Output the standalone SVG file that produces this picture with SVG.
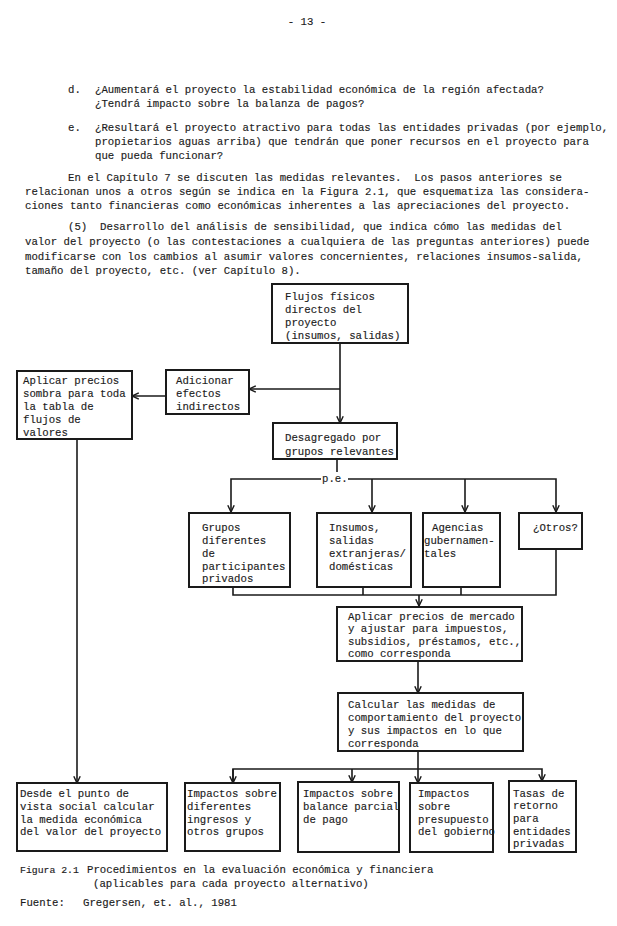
<svg xmlns="http://www.w3.org/2000/svg" width="617" height="926" viewBox="0 0 617 926">
<defs>
<style>
.t{font-family:"Liberation Mono","DejaVu Sans Mono",monospace;font-size:10.7px;fill:#1c1c1c;stroke:#1c1c1c;stroke-width:0.15;white-space:pre}
.box{fill:#fff;stroke:#1a1a1a;stroke-width:2}
.c{fill:none;stroke:#1a1a1a;stroke-width:1.6}
</style>
<marker id="ah" viewBox="0 0 10 10" refX="9.5" refY="5" markerWidth="8" markerHeight="8" orient="auto" markerUnits="userSpaceOnUse">
<path d="M1,1 L9.5,5 L1,9" fill="none" stroke="#1a1a1a" stroke-width="1.8"/>
</marker>
</defs>
<rect width="617" height="926" fill="#fff"/>

<g id="page-text">
<text class="t" x="307" y="25" text-anchor="middle">- 13 -</text>
<text class="t" x="68" y="93">d.</text>
<text class="t" x="95" y="93">¿Aumentará el proyecto la estabilidad económica de la región afectada?</text>
<text class="t" x="95" y="107">¿Tendrá impacto sobre la balanza de pagos?</text>
<text class="t" x="68" y="131">e.</text>
<text class="t" x="95" y="131">¿Resultará el proyecto atractivo para todas las entidades privadas (por ejemplo,</text>
<text class="t" x="95" y="145">propietarios aguas arriba) que tendrán que poner recursos en el proyecto para</text>
<text class="t" x="95" y="159">que pueda funcionar?</text>
<text class="t" x="68" y="181" xml:space="preserve">En el Capítulo 7 se discuten las medidas relevantes.  Los pasos anteriores se</text>
<text class="t" x="25" y="195">relacionan unos a otros según se indica en la Figura 2.1, que esquematiza las considera-</text>
<text class="t" x="25" y="209">ciones tanto financieras como económicas inherentes a las apreciaciones del proyecto.</text>
<text class="t" x="68" y="230" xml:space="preserve">(5)  Desarrollo del análisis de sensibilidad, que indica cómo las medidas del</text>
<text class="t" x="25" y="245">valor del proyecto (o las contestaciones a cualquiera de las preguntas anteriores) puede</text>
<text class="t" x="25" y="260">modificarse con los cambios al asumir valores concernientes, relaciones insumos-salida,</text>
<text class="t" x="25" y="274">tamaño del proyecto, etc. (ver Capítulo 8).</text>
</g>

<g id="connectors">
<path class="c" d="M340,343 V423" marker-end="url(#ah)"/>
<path class="c" d="M340,389 H249" marker-end="url(#ah)"/>
<path class="c" d="M166,396 H132" marker-end="url(#ah)"/>
<path class="c" d="M77,439 V783" marker-end="url(#ah)"/>
<path class="c" d="M337,459 V472"/>
<path class="c" d="M321,479 H231 V512" marker-end="url(#ah)"/>
<path class="c" d="M348,479 H556 V512" marker-end="url(#ah)"/>
<path class="c" d="M372,479 V512" marker-end="url(#ah)"/>
<path class="c" d="M465,479 V512" marker-end="url(#ah)"/>
<path class="c" d="M233,587 V595 H556 V549"/>
<path class="c" d="M363,587 V595"/>
<path class="c" d="M461,587 V595"/>
<path class="c" d="M419,595 V606" marker-end="url(#ah)"/>
<path class="c" d="M418,661 V693" marker-end="url(#ah)"/>
<path class="c" d="M418,751 V783" marker-end="url(#ah)"/>
<path class="c" d="M233,783 V769 H542 V781" marker-end="url(#ah)"/>
<path class="c" d="M233,769 V783" marker-end="url(#ah)"/>
<path class="c" d="M352,769 V782" marker-end="url(#ah)"/>
<text class="t" x="322" y="482">p.e.</text>
</g>

<g id="flujos">
<rect class="box" x="272" y="284" width="136" height="59"/>
<text class="t" x="285" y="300">Flujos físicos</text>
<text class="t" x="285" y="313">directos del</text>
<text class="t" x="285" y="326">proyecto</text>
<text class="t" x="285" y="339">(insumos, salidas)</text>
</g>

<g id="adicionar">
<rect class="box" x="166" y="370" width="83" height="44"/>
<text class="t" x="176" y="384">Adicionar</text>
<text class="t" x="176" y="397">efectos</text>
<text class="t" x="176" y="410">indirectos</text>
</g>

<g id="precios-sombra">
<rect class="box" x="17" y="371" width="115" height="68"/>
<text class="t" x="23" y="384">Aplicar precios</text>
<text class="t" x="23" y="397">sombra para toda</text>
<text class="t" x="23" y="410">la tabla de</text>
<text class="t" x="23" y="423">flujos de</text>
<text class="t" x="23" y="436">valores</text>
</g>

<g id="desagregado">
<rect class="box" x="273" y="423" width="124" height="36"/>
<text class="t" x="285" y="441">Desagregado por</text>
<text class="t" x="285" y="455">grupos relevantes</text>
</g>

<g id="grupos">
<rect class="box" x="189" y="513" width="101" height="74"/>
<text class="t" x="202" y="531">Grupos</text>
<text class="t" x="202" y="544">diferentes</text>
<text class="t" x="202" y="557">de</text>
<text class="t" x="202" y="570">participantes</text>
<text class="t" x="202" y="582">privados</text>
</g>

<g id="insumos">
<rect class="box" x="317" y="513" width="94" height="74"/>
<text class="t" x="329" y="531">Insumos,</text>
<text class="t" x="329" y="544">salidas</text>
<text class="t" x="329" y="557">extranjeras/</text>
<text class="t" x="329" y="570">domésticas</text>
</g>

<g id="agencias">
<rect class="box" x="423" y="513" width="77" height="74"/>
<text class="t" x="432" y="531">Agencias</text>
<text class="t" x="424" y="544">gubernamen-</text>
<text class="t" x="424" y="557">tales</text>
</g>

<g id="otros">
<rect class="box" x="519" y="513" width="63" height="36"/>
<text class="t" x="533" y="531">¿Otros?</text>
</g>

<g id="precios-mercado">
<rect class="box" x="337" y="607" width="185" height="54"/>
<text class="t" x="348" y="620">Aplicar precios de mercado</text>
<text class="t" x="348" y="632">y ajustar para impuestos,</text>
<text class="t" x="348" y="645">subsidios, préstamos, etc.,</text>
<text class="t" x="348" y="657">como corresponda</text>
</g>

<g id="calcular">
<rect class="box" x="338" y="693" width="185" height="58"/>
<text class="t" x="348" y="708">Calcular las medidas de</text>
<text class="t" x="348" y="721">comportamiento del proyecto</text>
<text class="t" x="348" y="734">y sus impactos en lo que</text>
<text class="t" x="348" y="747">corresponda</text>
</g>

<g id="desde">
<rect class="box" x="17" y="783" width="150" height="68"/>
<text class="t" x="20" y="797">Desde el punto de</text>
<text class="t" x="20" y="810">vista social calcular</text>
<text class="t" x="20" y="823">la medida económica</text>
<text class="t" x="20" y="835">del valor del proyecto</text>
</g>

<g id="impactos-ingresos">
<rect class="box" x="185" y="783" width="95" height="68"/>
<text class="t" x="187" y="797">Impactos sobre</text>
<text class="t" x="187" y="810">diferentes</text>
<text class="t" x="187" y="823">ingresos y</text>
<text class="t" x="187" y="835">otros grupos</text>
</g>

<g id="impactos-balance">
<rect class="box" x="298" y="782" width="101" height="70"/>
<text class="t" x="303" y="797">Impactos sobre</text>
<text class="t" x="303" y="810">balance parcial</text>
<text class="t" x="303" y="823">de pago</text>
</g>

<g id="impactos-presupuesto">
<rect class="box" x="410" y="783" width="83" height="69"/>
<text class="t" x="418" y="797">Impactos</text>
<text class="t" x="418" y="810">sobre</text>
<text class="t" x="418" y="823">presupuesto</text>
<text class="t" x="418" y="835">del gobierno</text>
</g>

<g id="tasas">
<rect class="box" x="509" y="781" width="67" height="71"/>
<text class="t" x="513" y="797">Tasas de</text>
<text class="t" x="513" y="809">retorno</text>
<text class="t" x="513" y="822">para</text>
<text class="t" x="513" y="835">entidades</text>
<text class="t" x="513" y="847">privadas</text>
</g>

<g id="caption">
<text class="t" x="20" y="873" style="font-size:9.8px">Figura 2.1</text>
<text class="t" x="87" y="873">Procedimientos en la evaluación económica y financiera</text>
<text class="t" x="93" y="887">(aplicables para cada proyecto alternativo)</text>
<text class="t" x="20" y="906">Fuente:</text>
<text class="t" x="83" y="906">Gregersen, et. al., 1981</text>
</g>
</svg>
